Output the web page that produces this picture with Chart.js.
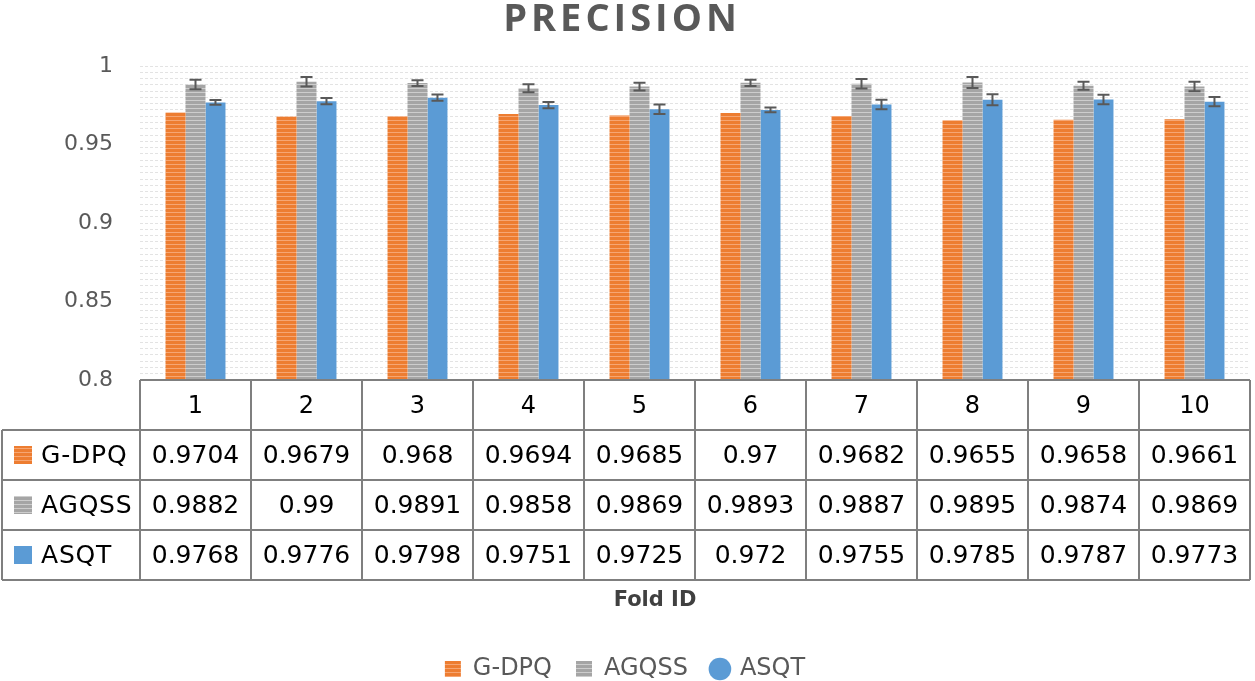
<!DOCTYPE html>
<html><head><meta charset="utf-8">
<script src="https://cdn.jsdelivr.net/npm/chart.js@4"></script>
<style>html,body{margin:0;padding:0;background:#fff}#wrap{width:1255px;height:681px;position:relative}</style>
</head><body><div id="wrap"><canvas id="c"></canvas></div>
<script>
const titleText = 'PRECISION';
const axisTitle = 'Fold ID';
const folds = ['1','2','3','4','5','6','7','8','9','10'];
const seriesNames = ['G-DPQ','AGQSS','ASQT'];
const gdpq  = [0.9704,0.9679,0.968,0.9694,0.9685,0.97,0.9682,0.9655,0.9658,0.9661];
const agqss = [0.9882,0.99,0.9891,0.9858,0.9869,0.9893,0.9887,0.9895,0.9874,0.9869];
const asqt  = [0.9768,0.9776,0.9798,0.9751,0.9725,0.972,0.9755,0.9785,0.9787,0.9773];
const agqssErr = [0.003,0.003,0.0018,0.0025,0.0025,0.002,0.003,0.0035,0.0025,0.003];
const asqtErr  = [0.0015,0.002,0.002,0.002,0.003,0.0015,0.003,0.0035,0.003,0.003];
const yTicks = [0.8,0.85,0.9,0.95,1];

const LEGEND_PAD_BOTTOM = -10;
const PLOT_BOTTOM = 380;

function stripe(base, line, period, lh){
  const c=document.createElement('canvas'); c.width=8; c.height=period;
  const g=c.getContext('2d'); g.fillStyle=base; g.fillRect(0,0,8,period);
  g.fillStyle=line; g.fillRect(0,0,8,lh);
  return g.createPattern(c,'repeat');
}
const orangeFill = stripe('#ED7D31','#F6A673',4,1);
const grayFill = stripe('#A5A5A5','#CDCDCD',4,1);
const blueFill = '#5B9BD5';
const fills = [orangeFill, grayFill, blueFill];
const pointStyles = ['rect','rect','circle'];
const errs = [null, agqssErr, asqtErr];

const tablePlugin = {
  id:'tablePlugin',
  afterDatasetsDraw(chart){
    const ctx=chart.ctx, ys=chart.scales.y;
    ctx.save(); ctx.strokeStyle='#595959'; ctx.lineWidth=2;
    errs.forEach((e,di)=>{
      if(!e) return;
      const meta=chart.getDatasetMeta(di);
      const vals=chart.data.datasets[di].data;
      meta.data.forEach((bar,i)=>{
        const x=bar.x, y1=ys.getPixelForValue(vals[i]+e[i]), y2=ys.getPixelForValue(vals[i]-e[i]);
        ctx.beginPath(); ctx.moveTo(x,y1); ctx.lineTo(x,y2);
        ctx.moveTo(x-6,y1); ctx.lineTo(x+6,y1);
        ctx.moveTo(x-6,y2); ctx.lineTo(x+6,y2); ctx.stroke();
      });
    });
    ctx.restore();
  },
  afterDraw(chart){
    const ctx=chart.ctx, area=chart.chartArea, xs=chart.scales.x;
    const n=folds.length, colW=(area.right-area.left)/n;
    const top=area.bottom, rowH=50, tableLeft=2;
    ctx.save();
    ctx.strokeStyle='#7f7f7f'; ctx.lineWidth=2;
    ctx.beginPath();
    ctx.moveTo(area.left,top); ctx.lineTo(area.right,top);
    for(let r=1;r<=4;r++){ ctx.moveTo(tableLeft,top+r*rowH); ctx.lineTo(area.right,top+r*rowH); }
    for(let i=0;i<=n;i++){
      const x = i<n ? xs.getPixelForValue(i)-colW/2 : xs.getPixelForValue(n-1)+colW/2;
      ctx.moveTo(x,top); ctx.lineTo(x,top+4*rowH);
    }
    ctx.moveTo(tableLeft,top+rowH); ctx.lineTo(tableLeft,top+4*rowH);
    ctx.stroke();
    const data=[gdpq,agqss,asqt];
    ctx.textBaseline='middle';
    data.forEach((arr,r)=>{
      const cy=top+(r+1)*rowH+rowH/2;
      ctx.fillStyle=fills[r]; ctx.fillRect(14,cy-9,18,18);
      ctx.fillStyle='#000'; ctx.textAlign='left'; ctx.font='25px "DejaVu Sans"';
      ctx.letterSpacing='0.8px';
      ctx.fillText(seriesNames[r],41,cy+1);
      ctx.letterSpacing='0px';
      ctx.textAlign='center'; ctx.font='25px "DejaVu Sans"';
      arr.forEach((v,i)=>{ ctx.fillText(String(v), xs.getPixelForValue(i), cy+1); });
    });
    ctx.fillStyle='#404040'; ctx.font='bold 21px "DejaVu Sans"'; ctx.textAlign='center';
    ctx.fillText(axisTitle, 655, top+4*rowH+21);
    ctx.fillStyle='#595959'; ctx.font='bold 38px "Open Sans"';
    ctx.letterSpacing='4px';
    ctx.fillText(titleText, 622, 20);
    ctx.restore();
  }
};

new Chart(document.getElementById('c'), {
  type:'bar',
  data:{ labels:folds, datasets:[gdpq,agqss,asqt].map((d,i)=>({
    label:seriesNames[i], data:d, backgroundColor:fills[i], borderWidth:0,
    barPercentage:1, categoryPercentage:0.54
  }))},
  options:{
    responsive:true, maintainAspectRatio:false, animation:false,
    layout:{padding:{top:66,right:5,left:0,bottom:LEGEND_PAD_BOTTOM}},
    plugins:{
      tooltip:{enabled:false},
      title:{display:false},
      legend:{position:'bottom', labels:{
        usePointStyle:true, boxWidth:16, boxHeight:16, padding:24,
        font:{family:'DejaVu Sans', size:24}, color:'#595959',
        generateLabels(chart){
          const items=Chart.defaults.plugins.legend.labels.generateLabels(chart);
          items.forEach((it,i)=>{ it.pointStyle=pointStyles[i]; it.lineWidth=0; it.strokeStyle='rgba(0,0,0,0)'; });
          return items;
        }
      }}
    },
    scales:{
      x:{ grid:{display:false, drawTicks:false}, border:{display:false},
          ticks:{font:{family:'DejaVu Sans', size:24}, color:'#000', padding:12},
          afterFit(s){
            const lg=s.chart.legend;
            const lh = lg ? lg.height : 40;
            s.height = Math.max(50, s.chart.height - LEGEND_PAD_BOTTOM - lh - PLOT_BOTTOM);
          } },
      y:{ min:0.8, max:1, position:'left', grid:{display:false, drawTicks:false}, border:{display:false},
          ticks:{font:{family:'DejaVu Sans', size:22}, color:'#595959', padding:27,
                 callback:(v)=>String(v)},
          afterBuildTicks(s){ s.ticks=yTicks.map(v=>({value:v})); },
          afterFit(s){ s.width=140; } },
      y2:{ min:0.8, max:1, position:'left',
          ticks:{display:false, stepSize:0.004},
          grid:{color:'#e3e3e3', lineWidth:1, drawTicks:false},
          border:{display:false, dash:[3,2]},
          afterFit(s){ s.width=0; } }
    }
  },
  plugins:[tablePlugin]
});
</script></body></html>
